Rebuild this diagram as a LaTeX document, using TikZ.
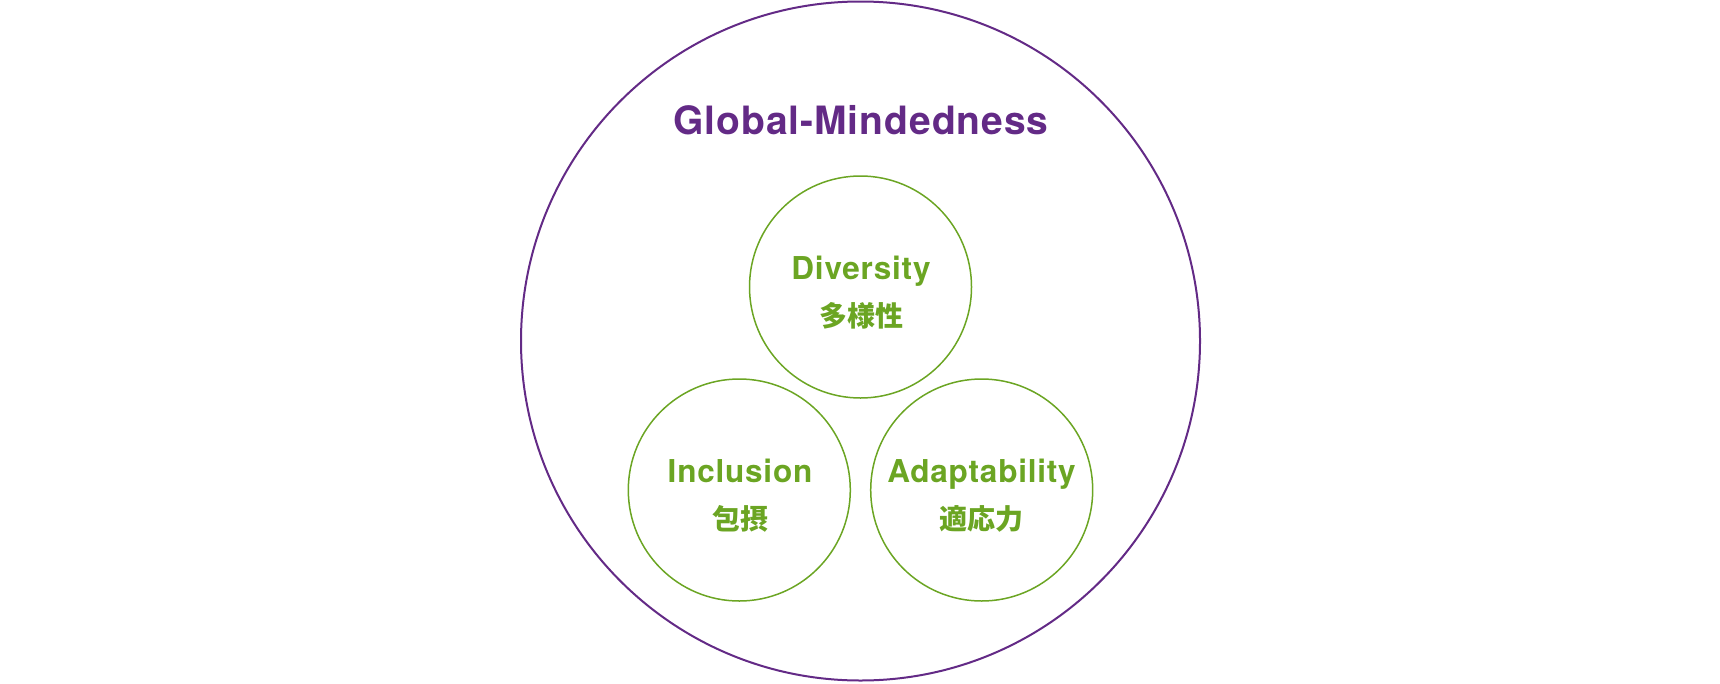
\documentclass[tikz,border=0pt]{standalone}
\usepackage{fontspec}
\newfontfamily\titlefont[LetterSpace=2.5]{TeX Gyre Heros}
\newfontfamily\labelfont[LetterSpace=2.5]{TeX Gyre Heros}
\newfontfamily\cjkfont{Noto Sans CJK JP}
\definecolor{gmpurple}{RGB}{99,42,134}
\definecolor{gmgreen}{RGB}{107,165,35}
\tikzset{
  outercircle/.style={circle, draw=gmpurple, line width=2pt, minimum size=679pt, inner sep=0pt},
  innercircle/.style={circle, draw=gmgreen, line width=1.5pt, minimum size=222pt, inner sep=0pt},
  titletext/.style={anchor=base, text=gmpurple, inner sep=0pt, font=\titlefont\bfseries\fontsize{39}{42}\selectfont},
  entext/.style={anchor=base, text=gmgreen, inner sep=0pt, font=\labelfont\bfseries\fontsize{31.5}{34}\selectfont},
  jptext/.style={anchor=base, text=gmgreen, inner sep=0pt, font=\cjkfont\bfseries\fontsize{28}{30}\selectfont}
}
\begin{document}
\begin{tikzpicture}[x=1pt,y=-1pt]
\useasboundingbox (0,0) rectangle (1720,683);
\node[outercircle] (outer) at (860.5,341) {};
\node[titletext] (title) at (861,134) {Global-Mindedness};
\node[innercircle] (div) at (860.5,287) {};
\node[innercircle] (inc) at (739.3,490) {};
\node[innercircle] (ada) at (981.7,490) {};
\node[entext] (divEn) at (861,279) {Diversity};
\node[jptext] (divJp) at (861,326) {多様性};
\node[entext] (incEn) at (740,482.7) {Inclusion};
\node[jptext] (incJp) at (740,529) {包摂};
\node[entext] (adaEn) at (981.5,482.7) {Adaptability};
\node[jptext] (adaJp) at (981.5,529) {適応力};
\end{tikzpicture}
\end{document}
